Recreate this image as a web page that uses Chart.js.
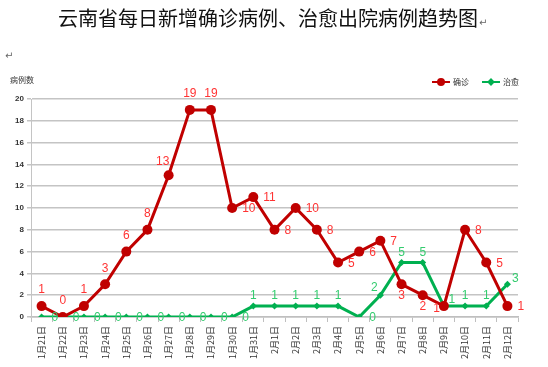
<!DOCTYPE html>
<html lang="zh">
<head>
<meta charset="utf-8">
<title>云南省每日新增确诊病例、治愈出院病例趋势图</title>
<script src="https://cdn.jsdelivr.net/npm/chart.js@4/dist/chart.umd.min.js"></script>
<style>
  html, body { margin: 0; padding: 0; background: #fff; }
  .wrap { position: relative; width: 548px; height: 367px; overflow: hidden; }
  .wrap canvas { position: absolute; left: 0; top: 0; }
  .title {
    position: absolute; left: 58px; top: 3px;
    font: 20px "Noto Sans CJK SC", sans-serif; color: #111; white-space: nowrap;
  }
  .mark { font: 10px "DejaVu Sans", sans-serif; color: #666; margin-left: 1px; }
  .mark--left { position: absolute; left: 4px; top: 50px; }
  .unit {
    position: absolute; left: 10px; top: 74px;
    font: 8px "Noto Sans CJK SC", sans-serif; color: #333;
  }
</style>
</head>
<body>
<div class="wrap">
  <canvas id="chart" width="548" height="367"></canvas>
  <div class="title">云南省每日新增确诊病例、治愈出院病例趋势图<span class="mark">↵</span></div>
  <div class="mark mark--left">↵</div>
  <div class="unit">病例数</div>
</div>
<script>
// data
const dates = ['1月21日', '1月22日', '1月23日', '1月24日', '1月25日', '1月26日', '1月27日',
  '1月28日', '1月29日', '1月30日', '1月31日', '2月1日', '2月2日', '2月3日', '2月4日',
  '2月5日', '2月6日', '2月7日', '2月8日', '2月9日', '2月10日', '2月11日', '2月12日'];
const confirmed = [1, 0, 1, 3, 6, 8, 13, 19, 19, 10, 11, 8, 10, 8, 5, 6, 7, 3, 2, 1, 8, 5, 1];
const cured = [0, 0, 0, 0, 0, 0, 0, 0, 0, 0, 1, 1, 1, 1, 1, 0, 2, 5, 5, 1, 1, 1, 3];
const yTicks = [0, 2, 4, 6, 8, 10, 12, 14, 16, 18, 20];

// where each value label sits next to its point
const confirmedLabelPos = ['top', 'top', 'top', 'top', 'top', 'top', 'topleft', 'top', 'top',
  'right', 'right', 'right', 'right', 'right', 'right', 'right', 'right',
  'bottom', 'bottom', 'left', 'right', 'right', 'right'];
const curedLabelPos = ['right', 'right', 'right', 'right', 'right', 'right', 'right', 'right', 'right', 'right',
  'top', 'top', 'top', 'top', 'top', 'right', 'topleft', 'top', 'top',
  'topright', 'top', 'top', 'topright'];

/*
* =============================================
* PLUGINS :: start
* ============================================= */
const labelOffsets = {
  top: (gap) => ({ dx: 0, dy: -gap, align: 'center' }),
  topleft: (gap) => ({ dx: -6, dy: -gap + 2, align: 'center' }),
  topright: (gap) => ({ dx: 8, dy: -6, align: 'center' }),
  right: () => ({ dx: 10, dy: 1, align: 'left' }),
  bottom: () => ({ dx: 0, dy: 11, align: 'center' }),
  left: () => ({ dx: -4, dy: 3, align: 'right' })
};

const valueLabels = {
  id: 'valueLabels',
  afterDatasetsDraw(chart) {
    const ctx = chart.ctx;
    ctx.save();
    ctx.font = '12px "Liberation Sans", Arial, sans-serif';
    ctx.textBaseline = 'middle';
    chart.data.datasets.forEach((ds, i) => {
      const meta = chart.getDatasetMeta(i);
      meta.data.forEach((pt, j) => {
        const o = labelOffsets[ds.labelPos[j]](ds.labelGap);
        ctx.fillStyle = ds.labelColor;
        ctx.textAlign = o.align;
        ctx.fillText(String(ds.data[j]), pt.x + o.dx, pt.y + o.dy);
      });
    });
    ctx.restore();
  }
};

// legend: short line with the marker, then the name
const lineLegend = {
  id: 'lineLegend',
  afterDraw(chart) {
    const ctx = chart.ctx;
    const items = [{ x: 432, i: 0 }, { x: 482, i: 1 }];
    const y = 82;
    ctx.save();
    items.forEach((it) => {
      const ds = chart.data.datasets[it.i];
      ctx.strokeStyle = ds.borderColor;
      ctx.lineWidth = 2;
      ctx.beginPath();
      ctx.moveTo(it.x, y);
      ctx.lineTo(it.x + 18, y);
      ctx.stroke();
      Chart.helpers.drawPoint(ctx, {
        pointStyle: ds.pointStyle,
        radius: ds.pointStyle === 'circle' ? 3 : 2.5,
        borderWidth: 1
      }, it.x + 9, y);
      ctx.fillStyle = ds.borderColor;
      ctx.fill();
      ctx.fillStyle = '#333';
      ctx.font = '8px "Noto Sans CJK SC", sans-serif';
      ctx.textAlign = 'left';
      ctx.textBaseline = 'middle';
      ctx.fillText(ds.label, it.x + 21, y);
    });
    ctx.restore();
  }
};
/*
* PLUGINS :: end
* ============================================= */

const initChart = () => {
  const chartArea = { left: 31, top: 99, right: 518, bottom: 317 };

  new Chart(document.getElementById('chart'), {
    type: 'line',
    data: {
      labels: dates,
      datasets: [{
        label: '确诊',
        data: confirmed,
        borderColor: '#c00000',
        backgroundColor: '#c00000',
        borderWidth: 3,
        pointStyle: 'circle',
        pointRadius: 5,
        pointBorderWidth: 0,
        labelColor: '#ff3333',
        labelGap: 16,
        labelPos: confirmedLabelPos
      }, {
        label: '治愈',
        data: cured,
        borderColor: '#00b050',
        backgroundColor: '#00b050',
        borderWidth: 3,
        pointStyle: 'rectRot',
        pointRadius: 3.5,
        pointBorderWidth: 0,
        labelColor: '#33cc6e',
        labelGap: 10,
        labelPos: curedLabelPos
      }]
    },
    options: {
      responsive: false,
      animation: false,
      devicePixelRatio: 1,
      layout: {
        padding: { left: 0, top: chartArea.top, right: 548 - chartArea.right, bottom: 0 }
      },
      plugins: {
        legend: { display: false },
        tooltip: { enabled: false }
      },
      scales: {
        x: {
          offset: true,
          grid: { display: true, drawOnChartArea: false, offset: true, tickLength: 5, color: '#bfbfbf', lineWidth: 1 },
          border: { display: true, color: '#bfbfbf', width: 1.5 },
          ticks: {
            autoSkip: false,
            minRotation: 90,
            maxRotation: 90,
            padding: 4,
            color: '#333',
            font: { family: '"Noto Sans CJK SC", sans-serif', size: 9 }
          },
          afterFit: (scale) => { scale.height = 367 - chartArea.bottom; }
        },
        y: {
          min: 0,
          max: 20,
          afterBuildTicks: (scale) => { scale.ticks = yTicks.map((v) => ({ value: v })); },
          grid: { color: '#c4c4c4', lineWidth: 1.5, tickLength: 4 },
          border: { display: true, color: '#c4c4c4', width: 1 },
          ticks: {
            padding: 3,
            color: '#333',
            font: { family: '"Liberation Sans", Arial, sans-serif', size: 8, weight: 'bold' }
          },
          afterFit: (scale) => { scale.width = chartArea.left; }
        }
      }
    },
    plugins: [valueLabels, lineLegend]
  });
};

initChart();
</script>
</body>
</html>
